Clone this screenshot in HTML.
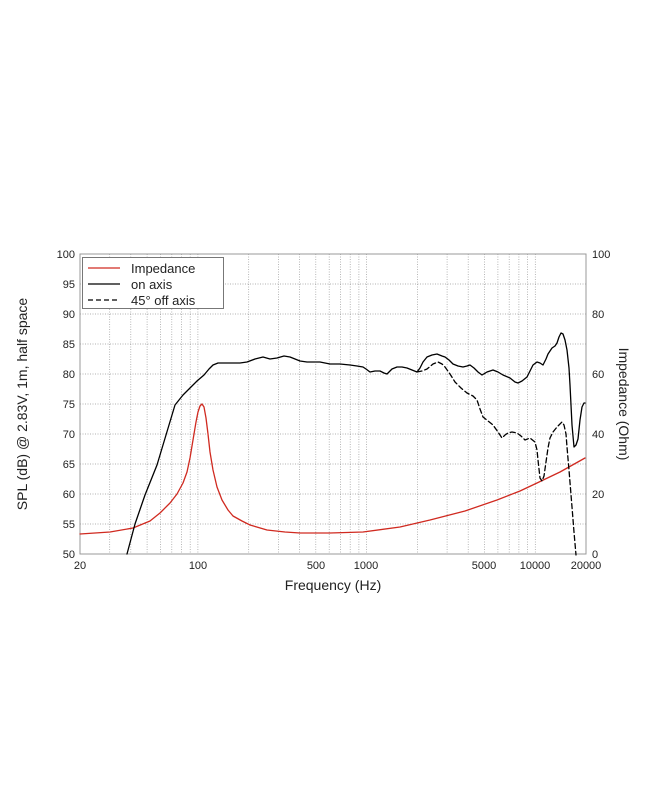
<!DOCTYPE html>
<html><head><meta charset="utf-8"><style>body{margin:0;background:#fff}svg{display:block}</style></head><body>
<svg width="650" height="794" viewBox="0 0 650 794" xmlns="http://www.w3.org/2000/svg" font-family="Liberation Sans, sans-serif">
<g stroke="#999" stroke-width="0.7" stroke-dasharray="1,1.5">
<line x1="80" x2="586" y1="284" y2="284"/><line x1="80" x2="586" y1="314" y2="314"/><line x1="80" x2="586" y1="344" y2="344"/><line x1="80" x2="586" y1="374" y2="374"/><line x1="80" x2="586" y1="404" y2="404"/><line x1="80" x2="586" y1="434" y2="434"/><line x1="80" x2="586" y1="464" y2="464"/><line x1="80" x2="586" y1="494" y2="494"/><line x1="80" x2="586" y1="524" y2="524"/>
<line x1="109.7" x2="109.7" y1="254" y2="554"/><line x1="130.8" x2="130.8" y1="254" y2="554"/><line x1="147.1" x2="147.1" y1="254" y2="554"/><line x1="160.5" x2="160.5" y1="254" y2="554"/><line x1="171.8" x2="171.8" y1="254" y2="554"/><line x1="181.5" x2="181.5" y1="254" y2="554"/><line x1="190.2" x2="190.2" y1="254" y2="554"/><line x1="197.9" x2="197.9" y1="254" y2="554"/>
<line x1="248.7" x2="248.7" y1="254" y2="554"/><line x1="278.4" x2="278.4" y1="254" y2="554"/><line x1="299.5" x2="299.5" y1="254" y2="554"/><line x1="315.8" x2="315.8" y1="254" y2="554"/><line x1="329.2" x2="329.2" y1="254" y2="554"/><line x1="340.5" x2="340.5" y1="254" y2="554"/><line x1="350.2" x2="350.2" y1="254" y2="554"/><line x1="358.9" x2="358.9" y1="254" y2="554"/><line x1="366.6" x2="366.6" y1="254" y2="554"/>
<line x1="417.4" x2="417.4" y1="254" y2="554"/><line x1="447.1" x2="447.1" y1="254" y2="554"/><line x1="468.2" x2="468.2" y1="254" y2="554"/><line x1="484.5" x2="484.5" y1="254" y2="554"/><line x1="497.9" x2="497.9" y1="254" y2="554"/><line x1="509.2" x2="509.2" y1="254" y2="554"/><line x1="518.9" x2="518.9" y1="254" y2="554"/><line x1="527.6" x2="527.6" y1="254" y2="554"/><line x1="535.3" x2="535.3" y1="254" y2="554"/>
</g>
<rect x="80" y="254" width="506" height="300" fill="none" stroke="#999" stroke-width="1"/>
<g font-size="11" fill="#222" text-anchor="end">
<text x="75" y="258">100</text><text x="75" y="288">95</text><text x="75" y="318">90</text><text x="75" y="348">85</text><text x="75" y="378">80</text><text x="75" y="408">75</text><text x="75" y="438">70</text><text x="75" y="468">65</text><text x="75" y="498">60</text><text x="75" y="528">55</text><text x="75" y="558">50</text>
</g>
<g font-size="11" fill="#222">
<text x="592" y="258">100</text><text x="592" y="318">80</text><text x="592" y="378">60</text><text x="592" y="438">40</text><text x="592" y="498">20</text><text x="592" y="558">0</text>
</g>
<g font-size="11" fill="#222" text-anchor="middle">
<text x="80" y="569">20</text><text x="198" y="569">100</text><text x="316" y="569">500</text><text x="366" y="569">1000</text><text x="484" y="569">5000</text><text x="535" y="569">10000</text><text x="586" y="569">20000</text>
</g>
<text x="333" y="590" font-size="14" text-anchor="middle" fill="#222">Frequency (Hz)</text>
<text transform="translate(27,404) rotate(-90)" font-size="14" text-anchor="middle" fill="#222">SPL (dB) @ 2.83V, 1m, half space</text>
<text transform="translate(619,404) rotate(90)" font-size="14" text-anchor="middle" fill="#222">Impedance (Ohm)</text>
<g fill="none" stroke-linejoin="round" stroke-linecap="round" stroke-width="1.3">
<polyline stroke="#d02a20" points="80,534 110,532 133,528 150,521 160,513 170,503 177,494 183,483 187,472 190,458 193,440 196,422 198,412 200,406 202,404 204,407 206,418 208,434 210,452 213,470 217,487 222,500 228,510 233,516 242,521 250,525 267,530 285,532 300,533 330,533 363,532 400,527 430,520 465,511 497,500 520,491 537,483 560,472 585,458"/>
<polyline stroke="#000" stroke-dasharray="5,3" points="417,372 422,371 427,369 433,364 438,362 442,364 445,367 450,374 455,382 461,388 467,393 473,396 477,400 480,409 483,417 488,421 493,425 498,432 502,438 505,435 508,433 512,432 517,433 521,436 525,440 530,438 535,442 537,450 538,460 540,478 542,481 544,476 546,462 548,448 550,438 553,432 557,427 562,422 564,425 566,434 567,447 569,470 572,507 574,532 576,555"/>
<polyline stroke="#000" points="127,554 135,524 145,495 157,465 166,435 175,405 183,395 190,388 197,381 204,375 209,369 213,365 218,363 222,363 233,363 240,363 247,362 255,359 263,357 270,359 277,358 284,356 290,357 295,359 300,361 307,362 320,362 330,364 340,364 350,365 357,366 363,367 366,369 370,372 375,371 380,371 384,373 387,374 392,369 397,367 402,367 407,368 412,370 417,372 420,368 423,362 427,357 432,355 437,354 442,356 445,357 449,360 453,364 458,366 463,367 467,366 470,365 474,368 478,372 482,375 487,372 493,370 498,372 503,375 510,378 515,382 518,383 522,381 527,377 530,371 533,365 537,362 540,363 543,365 546,359 548,354 552,348 555,346 557,343 559,337 561,333 563,334 565,340 567,350 569,368 570,385 572,425 574,447 576,445 578,439 580,420 582,407 584,403 585,403"/>
</g>
<rect x="82.5" y="257.5" width="141" height="51" fill="#fff" stroke="#777"/>
<line x1="88" x2="120" y1="268" y2="268" stroke="#d02a20" stroke-width="1.3"/>
<line x1="88" x2="120" y1="284" y2="284" stroke="#000" stroke-width="1.3"/>
<line x1="88" x2="120" y1="300" y2="300" stroke="#000" stroke-width="1.3" stroke-dasharray="5,3"/>
<g font-size="13" fill="#222"><text x="131" y="273">Impedance</text><text x="131" y="289">on axis</text><text x="131" y="305">45° off axis</text></g>
</svg>
</body></html>
